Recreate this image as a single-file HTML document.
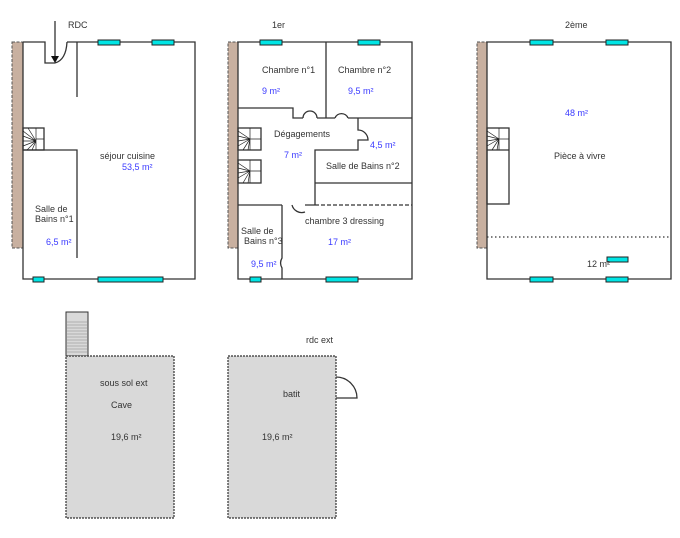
<!DOCTYPE html>
<html><head><meta charset="utf-8"><style>
html,body{margin:0;padding:0;background:#fff;}
svg{display:block;}
text{font-family:"Liberation Sans",sans-serif;font-size:9px;fill:#333;}
.b{fill:#3a3aff;}
.w{stroke:#333;stroke-width:1.3;fill:none;}
.win{fill:#00e5e5;stroke:#222;stroke-width:1;}
.br{fill:#c8b0a0;stroke:#555;stroke-width:1;stroke-dasharray:3,1.5;}
</style></head><body>
<svg width="680" height="538" viewBox="0 0 680 538" xmlns="http://www.w3.org/2000/svg">
<!-- RDC -->
<rect class="br" x="12" y="42" width="11" height="206"/>
<path class="w" d="M23,42 H45 V63 H55 M67,42 H195 V279 H23 V42"/>
<path class="w" d="M55,63 Q66,60 67,42"/>
<path class="w" d="M55,21 V58"/>
<polygon points="51,56 59,56 55,63" fill="#111"/>
<path class="w" d="M77,42 V97 M23,150 H77 V258"/>
<rect class="w" x="23" y="128" width="21" height="22"/>
<g stroke="#222" stroke-width="0.7"><path d="M23,131 L36,141 M23,136 L36,141 M23,141 L36,141 M23,146 L36,141 M27,150 L36,141 M32,150 L36,141 M28,128 L36,141 M36,128 V150 M36,139 H44"/></g>
<rect class="win" x="98" y="40" width="22" height="5"/>
<rect class="win" x="152" y="40" width="22" height="5"/>
<rect class="win" x="33" y="277" width="11" height="5"/>
<rect class="win" x="98" y="277" width="65" height="5"/>
<text x="68" y="28">RDC</text>
<text x="100" y="159">séjour cuisine</text>
<text class="b" x="122" y="170">53,5  m²</text>
<text x="35" y="212">Salle de</text>
<text x="35" y="222">Bains n°1</text>
<text class="b" x="46" y="245">6,5  m²</text>

<!-- 1er -->
<rect class="br" x="228" y="42" width="10" height="206"/>
<path class="w" d="M238,42 H412 V279 H238 Z"/>
<path class="w" d="M326,42 V118 M238,108 H293 V118 H303 M317,118 H335 M348,118 H412"/>
<path class="w" d="M303,118 A7,7 0 0 1 317,118 M335,118 A7,7 0 0 1 348,118"/>
<path class="w" d="M358,118 V130 A10,10 0 0 1 368,140 H358 V150 H315 V205 M315,183 H412"/>
<path class="w" d="M238,205 H282 M292,205 A10,10 0 0 0 305,212 M305,205 H315 M282,205 V258 A10,10 0 0 0 282,268 V279"/>
<path d="M315,205 H412" stroke="#333" stroke-width="1.3" stroke-dasharray="4,2"/>
<rect class="w" x="238" y="128" width="23" height="22"/>
<rect class="w" x="238" y="160" width="23" height="23"/>
<g stroke="#222" stroke-width="0.7"><path d="M238,131 L250,139 M238,136 L250,139 M238,141 L250,139 M238,146 L250,139 M243,150 L250,139 M248,150 L250,139 M250,128 V150 M250,139 H261 M238,163 L250,171 M238,168 L250,171 M238,173 L250,171 M238,178 L250,171 M243,183 L250,171 M248,183 L250,171 M250,160 V183 M250,171 H261"/></g>
<rect class="win" x="260" y="40" width="22" height="5"/>
<rect class="win" x="358" y="40" width="22" height="5"/>
<rect class="win" x="250" y="277" width="11" height="5"/>
<rect class="win" x="326" y="277" width="32" height="5"/>
<text x="272" y="28">1er</text>
<text x="262" y="73">Chambre n°1</text>
<text class="b" x="262" y="94">9  m²</text>
<text x="338" y="73">Chambre n°2</text>
<text class="b" x="348" y="94">9,5  m²</text>
<text x="274" y="137">Dégagements</text>
<text class="b" x="284" y="158">7  m²</text>
<text class="b" x="370" y="148">4,5  m²</text>
<text x="326" y="169">Salle de Bains n°2</text>
<text x="305" y="224">chambre 3  dressing</text>
<text class="b" x="328" y="245">17  m²</text>
<text x="241" y="234">Salle de</text>
<text x="244" y="244">Bains n°3</text>
<text class="b" x="251" y="267">9,5  m²</text>

<!-- 2eme -->
<rect class="br" x="477" y="42" width="10" height="206"/>
<path class="w" d="M487,42 H671 V279 H487 Z"/>
<rect class="w" x="487" y="128" width="22" height="76"/>
<path class="w" d="M487,150 H509"/>
<g stroke="#222" stroke-width="0.7"><path d="M487,131 L499,139 M487,136 L499,139 M487,141 L499,139 M487,146 L499,139 M492,150 L499,139 M497,150 L499,139 M499,128 V150 M499,139 H509"/></g>
<path d="M487,237 H671" stroke="#333" stroke-width="1.3" stroke-dasharray="1.5,2.5"/>
<rect class="win" x="530" y="40" width="23" height="5"/>
<rect class="win" x="606" y="40" width="22" height="5"/>
<rect class="win" x="607" y="257" width="21" height="5"/>
<rect class="win" x="530" y="277" width="23" height="5"/>
<rect class="win" x="606" y="277" width="22" height="5"/>
<text x="565" y="28">2ème</text>
<text class="b" x="565" y="116">48  m²</text>
<text x="554" y="159">Pièce à vivre</text>
<text x="587" y="267">12  m²</text>

<!-- Cave -->
<rect x="66" y="312" width="22" height="44" fill="#d9d9d9" stroke="#333" stroke-width="1"/>
<g stroke="#888" stroke-width="0.6"><path d="M66,322H88M66,325H88M66,328H88M66,331H88M66,334H88M66,337H88M66,340H88M66,343H88M66,346H88M66,349H88M66,352H88"/></g>
<rect x="66" y="356" width="108" height="162" fill="#d9d9d9" stroke="#333" stroke-width="1.2" stroke-dasharray="2,1"/>
<text x="100" y="386">sous sol ext</text>
<text x="111" y="408">Cave</text>
<text x="111" y="440">19,6  m²</text>

<!-- batit -->
<rect x="228" y="356" width="108" height="162" fill="#d9d9d9" stroke="#333" stroke-width="1.2" stroke-dasharray="2,1"/>
<path class="w" d="M336,377 A21,21 0 0 1 357,398 H336"/>
<text x="306" y="343">rdc ext</text>
<text x="283" y="397">batit</text>
<text x="262" y="440">19,6  m²</text>
</svg>
</body></html>
